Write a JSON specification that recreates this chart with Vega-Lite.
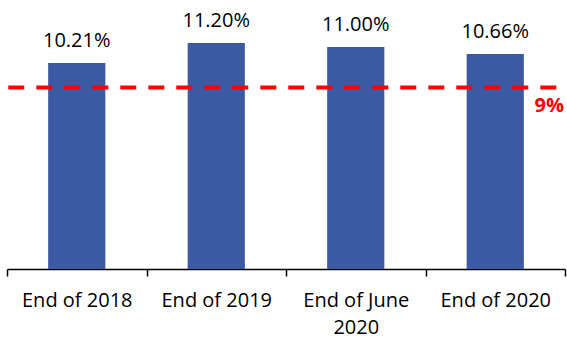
{
  "$schema": "https://vega.github.io/schema/vega-lite/v6.json",
  "autosize": {"type": "none"},
  "width": 558,
  "height": 269,
  "padding": {"left": 7, "top": 0, "right": 2, "bottom": 69},
  "config": {"view": {"stroke": null}, "font": "Open Sans"},
  "layer": [
    {
      "data": {"values": [
        {"period": "End of 2018", "ratio": 0.1021},
        {"period": "End of 2019", "ratio": 0.1120},
        {"period": "End of June 2020", "ratio": 0.1100},
        {"period": "End of 2020", "ratio": 0.1066}
      ]},
      "layer": [
        {
          "mark": {"type": "bar", "width": {"band": 0.41}, "color": "#3B5AA3"},
          "encoding": {
            "x": {"field": "period", "type": "nominal",
              "sort": ["End of 2018", "End of 2019", "End of June 2020", "End of 2020"],
              "scale": {"paddingInner": 0, "paddingOuter": 0},
              "axis": {"title": null, "tickBand": "extent", "labelAngle": 0, "labelFontSize": 20, "labelColor": "#000000", "labelFont": "Open Sans", "labelPadding": 30, "labelLineHeight": 27, "labelBaseline": "alphabetic", "domainColor": "#000000", "domainWidth": 1.5, "tickColor": "#000000", "tickWidth": 1.5, "tickSize": 7,
                "labelExpr": "datum.label == 'End of June 2020' ? ['End of June', '2020'] : datum.label"}},
            "y": {"field": "ratio", "type": "quantitative", "scale": {"domain": [0, 0.1333], "nice": false}, "axis": null}
          }
        },
        {
          "mark": {"type": "text", "fontSize": 20, "color": "#000000", "baseline": "alphabetic", "dy": -16},
          "encoding": {
            "x": {"field": "period", "type": "nominal", "sort": ["End of 2018", "End of 2019", "End of June 2020", "End of 2020"]},
            "y": {"field": "ratio", "type": "quantitative"},
            "text": {"field": "ratio", "type": "quantitative", "format": ".2%"}
          }
        }
      ]
    },
    {
      "data": {"values": [{"threshold": 0.09, "period": "End of 2020"}]},
      "layer": [
        {
          "mark": {"type": "rule", "color": "#FF0000", "strokeWidth": 4, "strokeDash": [16, 12], "strokeDashOffset": 19.3},
          "encoding": {"y": {"field": "threshold", "type": "quantitative"}}
        },
        {
          "mark": {"type": "text", "color": "#FF0000", "fontWeight": "bold", "fontSize": 20, "align": "right", "baseline": "top", "dy": 9, "dx": -1},
          "encoding": {
            "x": {"field": "period", "type": "nominal", "bandPosition": 1, "sort": ["End of 2018", "End of 2019", "End of June 2020", "End of 2020"]},
            "y": {"field": "threshold", "type": "quantitative"},
            "text": {"field": "threshold", "type": "quantitative", "format": ".0%"}
          }
        }
      ]
    }
  ]
}
